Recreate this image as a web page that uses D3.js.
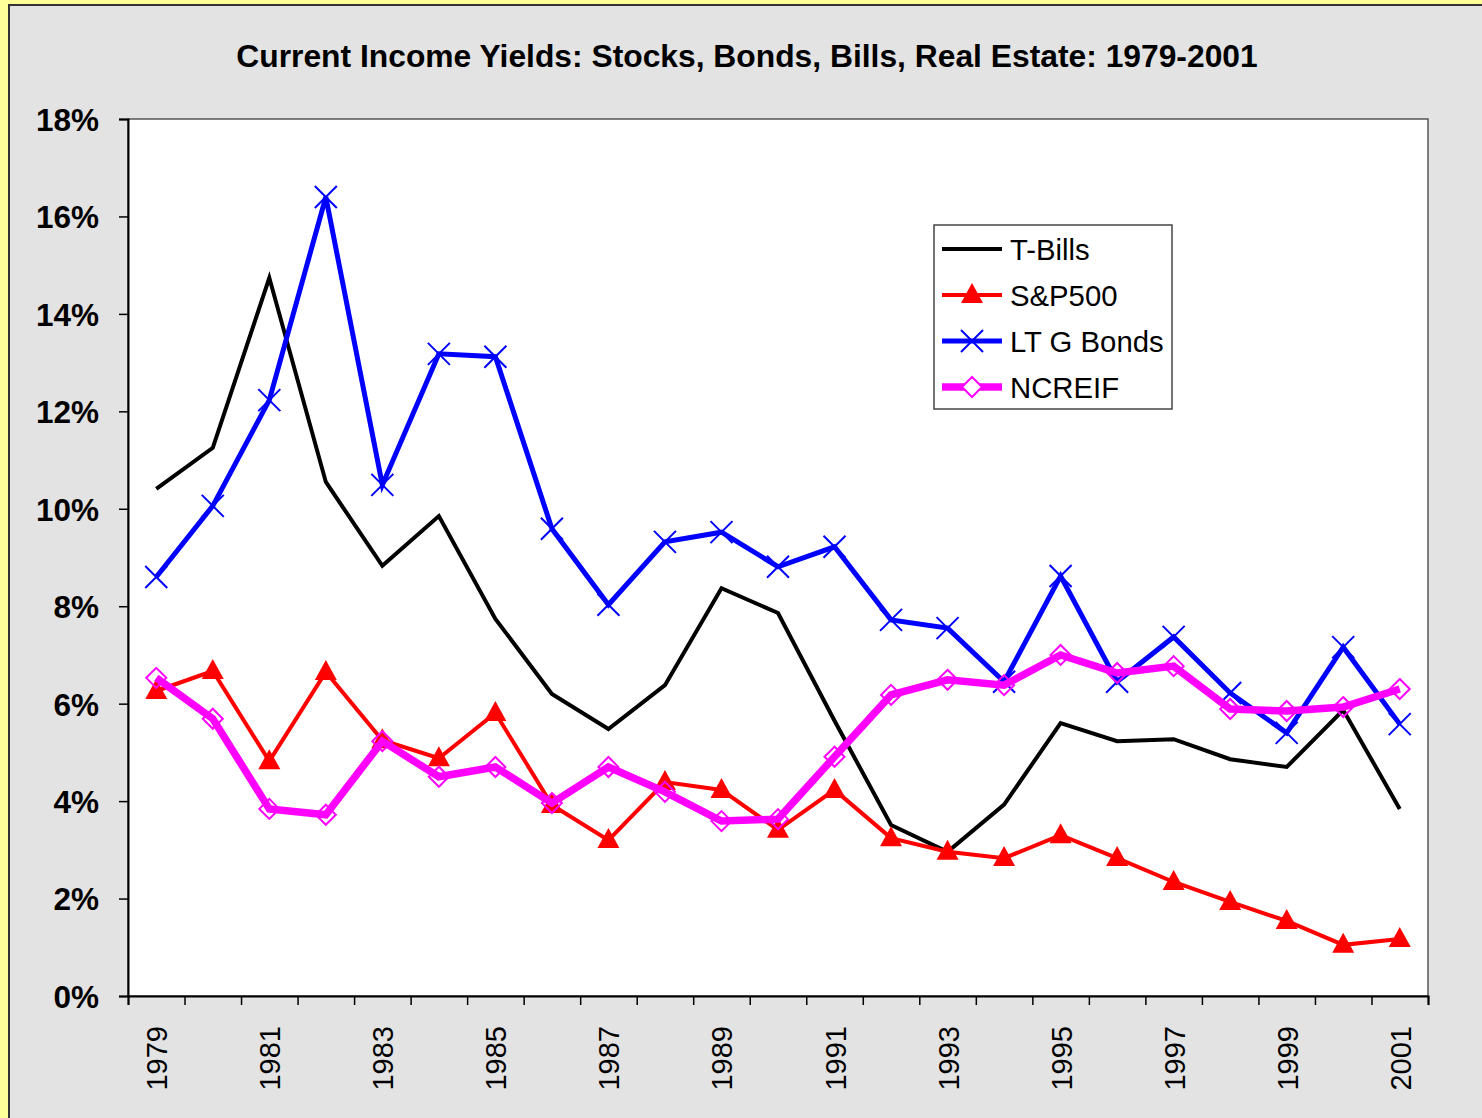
<!DOCTYPE html>
<html>
<head>
<meta charset="utf-8">
<script src="https://cdn.jsdelivr.net/npm/d3@7"></script>
<style>
  body { margin: 0; background: #ffff99; }
  svg { display: block; font-family: Arial, "Liberation Sans", sans-serif; }
</style>
</head>
<body>
<div id="container"></div>
<script>
(function(){
  "use strict";
  var years = [1979, 1980, 1981, 1982, 1983, 1984, 1985, 1986, 1987, 1988, 1989, 1990,
               1991, 1992, 1993, 1994, 1995, 1996, 1997, 1998, 1999, 2000, 2001];
  var tBills = [10.41, 11.25, 14.74, 10.55, 8.83, 9.85, 7.74, 6.20, 5.48, 6.38, 8.37, 7.86,
                5.65, 3.51, 2.96, 3.93, 5.60, 5.23, 5.27, 4.86, 4.70, 5.87, 3.84];
  var sp500 = [6.26, 6.67, 4.82, 6.65, 5.25, 4.88, 5.81, 3.92, 3.20, 4.39, 4.23, 3.41,
               4.23, 3.24, 2.96, 2.83, 3.30, 2.83, 2.34, 1.93, 1.54, 1.05, 1.17];
  var ltgBonds = [8.60, 10.06, 12.23, 16.40, 10.49, 13.18, 13.12, 9.59, 8.03, 9.32, 9.52, 8.81,
                  9.22, 7.72, 7.55, 6.45, 8.62, 6.45, 7.37, 6.22, 5.40, 7.16, 5.58];
  var ncreif = [6.53, 5.69, 3.84, 3.72, 5.23, 4.50, 4.70, 3.96, 4.70, 4.19, 3.59, 3.63,
                4.91, 6.18, 6.49, 6.38, 7.00, 6.63, 6.77, 5.89, 5.85, 5.93, 6.30];
  var yTicks = [0, 2, 4, 6, 8, 10, 12, 14, 16, 18];
  var labelYears = years.filter(function(y) { return y % 2 === 1; });

  var series = [
    { name: "T-Bills", values: tBills, color: "#000000", width: 4, marker: "none" },
    { name: "S&P500", values: sp500, color: "#ff0000", width: 4, marker: "triangle" },
    { name: "LT G Bonds", values: ltgBonds, color: "#0000ff", width: 5, marker: "cross" },
    { name: "NCREIF", values: ncreif, color: "#ff00ff", width: 7.5, marker: "diamond" }
  ];

  var W = 1482, H = 1118;
  var margin = { top: 119, right: 54, bottom: 122, left: 128 };
  var width = 1428 - margin.left;
  var height = 996 - margin.top;

  var svg = d3.select("#container").append("svg")
      .attr("width", W)
      .attr("height", H);

  // gray chart area with dark border
  svg.append("rect")
      .attr("x", 9).attr("y", 5)
      .attr("width", W + 10).attr("height", H + 10)
      .attr("fill", "#e3e3e3")
      .attr("stroke", "#333")
      .attr("stroke-width", 2);

  svg.append("text")
      .attr("x", 747).attr("y", 67)
      .attr("text-anchor", "middle")
      .style("font-size", "31.8px")
      .style("font-weight", "bold")
      .text("Current Income Yields: Stocks, Bonds, Bills, Real Estate: 1979-2001");

  var chart = svg.append("g")
      .attr("transform", "translate(" + margin.left + "," + margin.top + ")");

  chart.append("rect")
      .attr("width", width).attr("height", height)
      .attr("fill", "#fff")
      .attr("stroke", "#555")
      .attr("stroke-width", 1.5);

  var xScale = d3.scaleBand().domain(years).range([0, width]);
  var yScale = d3.scaleLinear().domain([0, 18]).range([height, 0]);
  var xc = function(i) { return xScale(years[i]) + xScale.bandwidth() / 2; };

  // y axis
  var yAxis = d3.axisLeft(yScale)
      .tickValues(yTicks)
      .tickSize(9)
      .tickPadding(20)
      .tickFormat(function(d) { return d + "%"; });
  var yAxisGroup = chart.append("g").call(yAxis);
  yAxisGroup.select(".domain").attr("stroke", "#000").attr("stroke-width", 2);
  yAxisGroup.selectAll(".tick line").attr("stroke", "#000").attr("stroke-width", 1.5);
  yAxisGroup.selectAll(".tick text")
      .attr("fill", "#000")
      .attr("dy", "0.36em")
      .style("font-size", "31.5px")
      .style("font-weight", "bold")
      .style("font-family", "Arial, 'Liberation Sans', sans-serif");

  // x axis: ticks at category boundaries
  var xBound = d3.scaleLinear().domain([0, years.length]).range([0, width]);
  var xAxis = d3.axisBottom(xBound)
      .tickValues(d3.range(0, years.length + 1))
      .tickSize(9)
      .tickFormat("");
  var xAxisGroup = chart.append("g")
      .attr("transform", "translate(0," + height + ")")
      .call(xAxis);
  xAxisGroup.select(".domain").attr("stroke", "#000").attr("stroke-width", 2);
  xAxisGroup.selectAll(".tick line").attr("stroke", "#000").attr("stroke-width", 1.5);

  chart.append("g").selectAll("text")
      .data(labelYears)
      .join("text")
      .attr("transform", function(d) {
        var x = xScale(d) + xScale.bandwidth() / 2;
        return "translate(" + (x + 11) + "," + (height + 30) + ") rotate(-90)";
      })
      .attr("text-anchor", "end")
      .style("font-size", "29px")
      .text(function(d) { return d; });

  function drawMarker(g, type, color, x, y) {
    if (type === "triangle") {
      g.append("path")
          .attr("d", "M" + x + "," + (y - 12) + "L" + (x + 11) + "," + (y + 8) + "L" + (x - 11) + "," + (y + 8) + "Z")
          .attr("fill", color);
    } else if (type === "cross") {
      g.append("path")
          .attr("d", "M" + (x - 11) + "," + (y - 11) + "L" + (x + 11) + "," + (y + 11) +
                     "M" + (x + 11) + "," + (y - 11) + "L" + (x - 11) + "," + (y + 11))
          .attr("stroke", color)
          .attr("stroke-width", 2)
          .attr("fill", "none");
    } else if (type === "diamond") {
      g.append("path")
          .attr("d", "M" + x + "," + (y - 10) + "L" + (x + 10) + "," + y + "L" + x + "," + (y + 10) + "L" + (x - 10) + "," + y + "Z")
          .attr("stroke", color)
          .attr("stroke-width", 2)
          .attr("fill", "none");
    }
  }

  var line = d3.line()
      .x(function(d, i) { return xc(i); })
      .y(function(d) { return yScale(d); });

  series.forEach(function(s) {
    var g = chart.append("g");
    g.append("path")
        .datum(s.values)
        .attr("d", line)
        .attr("fill", "none")
        .attr("stroke", s.color)
        .attr("stroke-width", s.width)
        .attr("stroke-linejoin", "miter");
    s.values.forEach(function(v, i) {
      drawMarker(g, s.marker, s.color, xc(i), yScale(v));
    });
  });

  // legend
  var legend = svg.append("g").attr("transform", "translate(934,225)");
  legend.append("rect")
      .attr("width", 238).attr("height", 184)
      .attr("fill", "#fff")
      .attr("stroke", "#444")
      .attr("stroke-width", 1.5);
  series.forEach(function(s, i) {
    var y = 24 + i * 46;
    legend.append("line")
        .attr("x1", 8).attr("x2", 68)
        .attr("y1", y).attr("y2", y)
        .attr("stroke", s.color)
        .attr("stroke-width", s.width);
    if (s.marker === "diamond") {
      legend.append("path")
          .attr("d", "M38," + (y - 10) + "L48," + y + "L38," + (y + 10) + "L28," + y + "Z")
          .attr("fill", "#fff")
          .attr("stroke", s.color)
          .attr("stroke-width", 2);
    } else {
      drawMarker(legend, s.marker, s.color, 38, y);
    }
    legend.append("text")
        .attr("x", 76).attr("y", y)
        .attr("dy", "0.36em")
        .style("font-size", "29.3px")
        .text(s.name);
  });
})();
</script>
</body>
</html>
